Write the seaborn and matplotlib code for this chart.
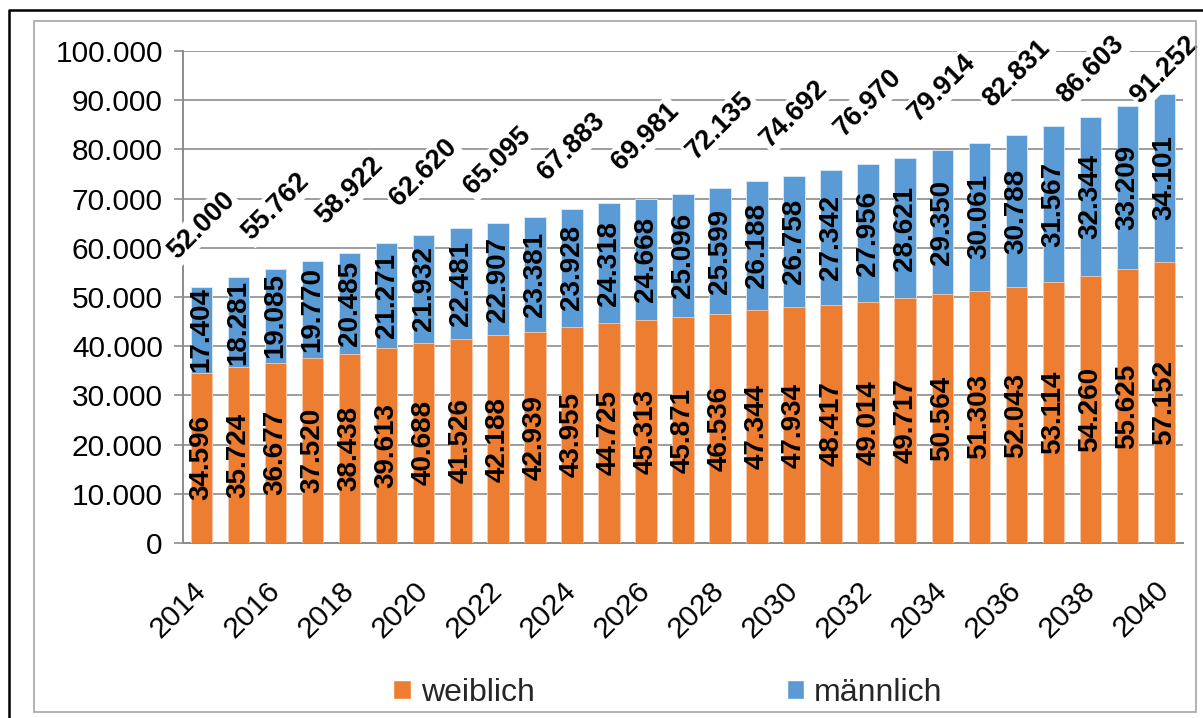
"""
Bevoelkerungsprognose 2014-2040: gestapelte Balken weiblich / maennlich.
"""
import matplotlib.pyplot as plt
import seaborn as sns
import pandas as pd
import numpy as np
from matplotlib.patches import Rectangle
from matplotlib.lines import Line2D


years = list(range(2014, 2041))
weiblich = [34596, 35724, 36677, 37520, 38438, 39613, 40688, 41526, 42188, 42939,
            43955, 44725, 45313, 45871, 46536, 47344, 47934, 48417, 49014, 49717,
            50564, 51303, 52043, 53114, 54260, 55625, 57152]
maennlich = [17404, 18281, 19085, 19770, 20485, 21271, 21932, 22481, 22907, 23381,
             23928, 24318, 24668, 25096, 25599, 26188, 26758, 27342, 27956, 28621,
             29350, 30061, 30788, 31567, 32344, 33209, 34101]
# Summenbeschriftung nur fuer jedes zweite Jahr
total_years = list(range(2014, 2041, 2))
total_labels = [52000, 55762, 58922, 62620, 65095, 67883, 69981, 72135, 74692,
                76970, 79914, 82831, 86603, 91252]
y_ticks = list(range(0, 100001, 10000))

ORANGE = '#ED7D31'
BLUE = '#5B9BD5'
GRID = '#8C8C8C'


def de_num(v):
    return f"{v:,}".replace(",", ".")


sns.set_style("white")
plt.rcParams['font.family'] = ['Liberation Sans', 'DejaVu Sans']
plt.rcParams['xtick.color'] = GRID
plt.rcParams['ytick.color'] = GRID
plt.rcParams['xtick.labelcolor'] = 'black'
plt.rcParams['ytick.labelcolor'] = 'black'

df = pd.DataFrame({'Jahr': years, 'weiblich': weiblich, 'männlich': maennlich})
df['gesamt'] = df['weiblich'] + df['männlich']

fig = plt.figure(figsize=(12.03, 7.18), dpi=100)
ax = fig.add_axes([183 / 1203, 1 - 543 / 718, 1000 / 1203, 492 / 718])

# Stapel: Gesamtbalken (blau) hinten, weiblich (orange) davor
sns.barplot(data=df, x='Jahr', y='gesamt', color=BLUE, saturation=1, width=0.58,
            edgecolor='#DDEBF7', linewidth=0.6, ax=ax, zorder=2)
sns.barplot(data=df, x='Jahr', y='weiblich', color=ORANGE, saturation=1, width=0.58,
            edgecolor='#F8CBAD', linewidth=0.6, ax=ax, zorder=3)

# Werte in den Segmenten
for i, (w, m) in enumerate(zip(df['weiblich'], df['männlich'])):
    ax.text(i, w / 2, de_num(w), rotation=90, ha='center', va='center',
            fontsize=20, fontweight='bold', color='black', zorder=5)
    ax.text(i, w + m / 2, de_num(m), rotation=90, ha='center', va='center',
            fontsize=20, fontweight='bold', color='black', zorder=5)

# Summen ueber den Balken (weisser Hintergrund wie im Original)
for yr, lab in zip(total_years, total_labels):
    i = years.index(yr)
    y = min(df['gesamt'].iloc[i] + 12600, 96300)
    ax.text(i, y, de_num(lab), rotation=45, ha='center', va='center',
            fontsize=19.5, fontweight='bold', color='black', zorder=6,
            bbox=dict(facecolor='white', edgecolor='none', pad=1.5))

ax.set_ylim(0, 100000)
ax.set_xlim(-0.5, len(years) - 0.5)
ax.set_yticks(y_ticks)
ax.set_yticklabels([de_num(v) for v in y_ticks], fontsize=21.5)
ax.set_xticks(range(0, len(years), 2))
ax.set_xticklabels([str(y) for y in years[::2]], rotation=45, ha='right',
                   rotation_mode='anchor', va='center', fontsize=21.5)
ax.set_xticks(np.arange(-0.5, len(years), 1), minor=True)
ax.tick_params(axis='x', which='major', length=0, pad=31)
ax.tick_params(axis='x', which='minor', length=6.5, color=GRID, width=1.2)
ax.tick_params(axis='y', length=6.5, color=GRID, width=1.2, pad=8, left=True)
ax.set_xlabel('')
ax.set_ylabel('')

ax.grid(True, axis='y', color=GRID, linewidth=1.2, zorder=0)
ax.set_axisbelow(True)
for side in ['top', 'right']:
    ax.spines[side].set_visible(False)
for side in ['left', 'bottom']:
    ax.spines[side].set_color(GRID)
    ax.spines[side].set_linewidth(1.4)

# Legende unten
handles = [Rectangle((0, 0), 1, 1, facecolor=ORANGE),
           Rectangle((0, 0), 1, 1, facecolor=BLUE)]
fig.legend(handles, ['weiblich', 'männlich'], loc='center', ncol=2,
           bbox_to_anchor=(668 / 1203, 1 - 693 / 718), frameon=False,
           fontsize=23, handlelength=0.55, handleheight=0.55,
           handletextpad=0.3, columnspacing=7.9)

# Rahmen: innen grau, aussen schwarz
fig.add_artist(Rectangle((34 / 1203, 1 - 712 / 718), (1196 - 34) / 1203, (712 - 21) / 718,
                         transform=fig.transFigure, fill=False,
                         edgecolor='#A6A6A6', linewidth=1.2))
fig.add_artist(Line2D([9 / 1203, 9 / 1203, 1.0], [0.0, 1 - 10 / 718, 1 - 10 / 718],
                      transform=fig.transFigure, color='black', linewidth=1.8))

fig.savefig('out.png', dpi=100)
